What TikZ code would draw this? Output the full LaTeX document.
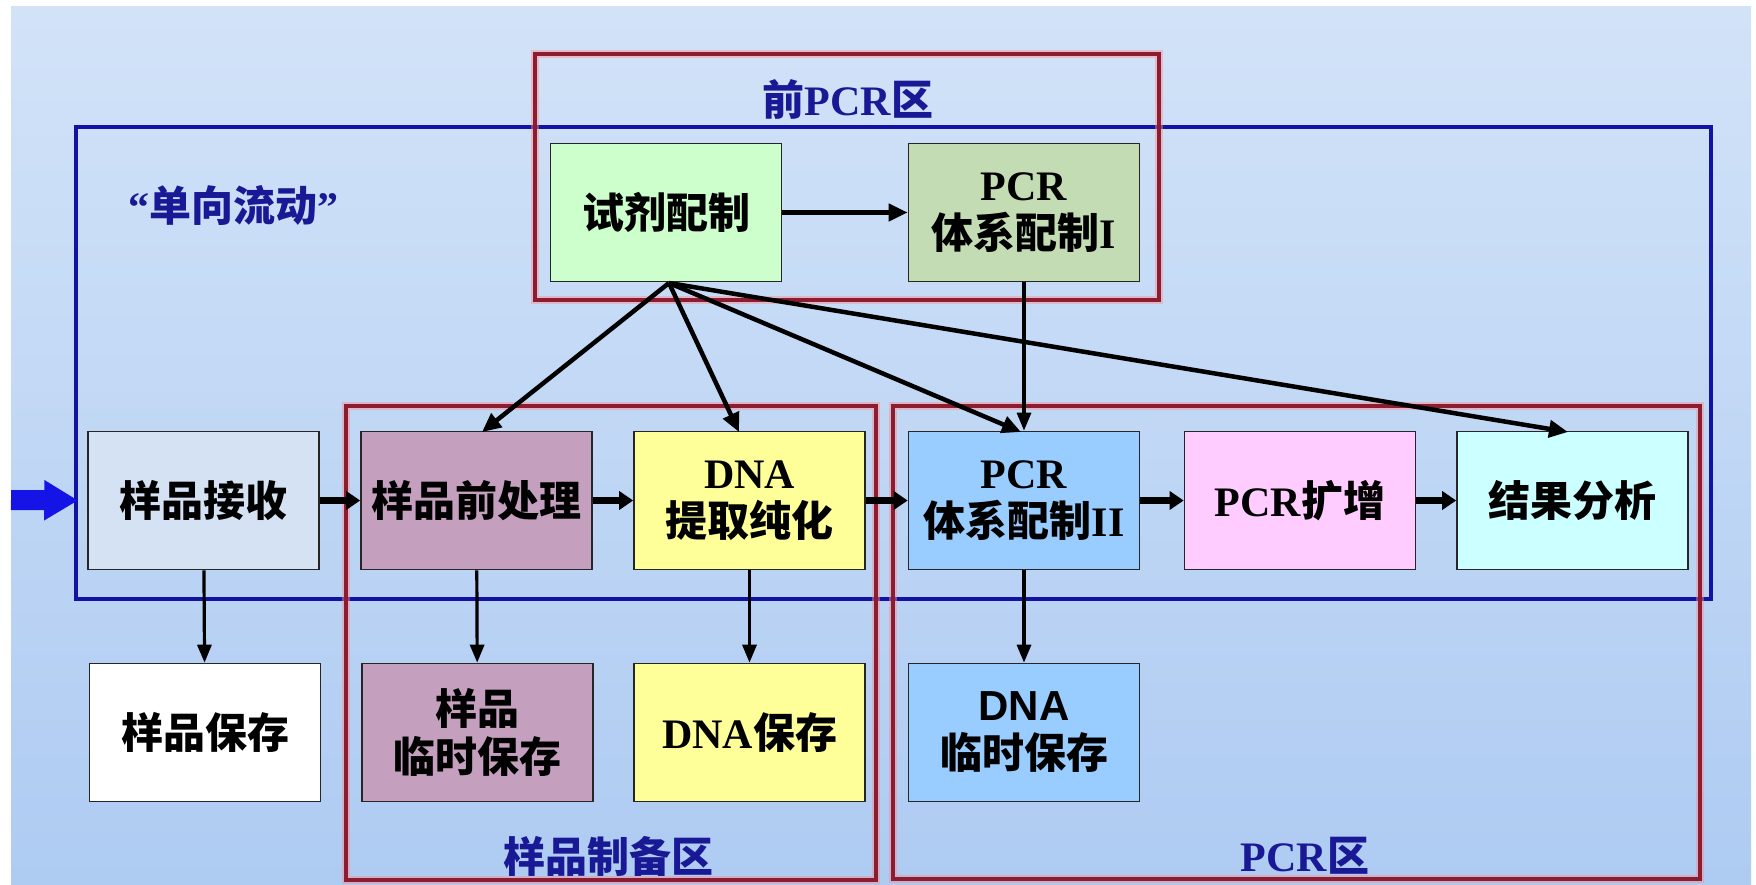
\documentclass[tikz,border=0pt]{standalone}
\usepackage{fontspec}
\setmainfont{Liberation Serif}
\newfontfamily\cjk{Noto Sans CJK SC}
\newfontfamily\lsans{Liberation Sans}
\usetikzlibrary{arrows.meta,calc}
\definecolor{bgtop}{RGB}{210,227,248}
\definecolor{bgbot}{RGB}{174,203,242}
\definecolor{zonered}{RGB}{140,28,50}
\definecolor{zoneblue}{RGB}{18,18,165}
\definecolor{labelblue}{RGB}{25,25,150}
\definecolor{inblue}{RGB}{20,20,230}
\definecolor{cReag}{RGB}{204,255,204}
\definecolor{cPcrA}{RGB}{195,220,180}
\definecolor{cRecv}{RGB}{212,226,244}
\definecolor{cPre}{RGB}{196,160,190}
\definecolor{cDna}{RGB}{255,255,153}
\definecolor{cPcrB}{RGB}{153,204,255}
\definecolor{cAmp}{RGB}{255,204,255}
\definecolor{cRes}{RGB}{204,255,255}
\newcommand\zh[1]{{\cjk\bfseries #1}}
\begin{document}
\begin{tikzpicture}[x=1pt,y=-1pt,
  box/.style={draw=black!85, line width=1.6pt, minimum width=231pt, minimum height=138pt,
    align=center, inner sep=0pt, font=\fontsize{42}{48}\selectfont\bfseries},
  zone/.style={draw=zonered, line width=3.5pt,
    preaction={draw=red!45, line width=8pt, opacity=0.45}},
  zonelabel/.style={text=labelblue, font=\fontsize{42}{48}\selectfont\bfseries, inner sep=0pt},
  flow/.style={draw=black, line width=7pt, -{Triangle[length=14pt,width=18pt]}},
  fan/.style={draw=black, line width=4.5pt, -{Triangle[length=19pt,width=17pt]}},
  down/.style={draw=black, line width=3.2pt, -{Triangle[length=18pt,width=14pt]}},
  inarrow/.style={draw=inblue, line width=20pt, -{Triangle[length=34pt,width=38pt]}}
]
\useasboundingbox (0,0) rectangle (1756,885);
\fill[white] (0,0) rectangle (1756,885);
\shade[top color=bgtop, bottom color=bgbot] (11,7) rectangle (1751,885);

% one-way flow frame
\draw[zoneblue, line width=4pt] (76,127) rectangle (1711,599);

% zones
\draw[zone] (535,54) rectangle (1159,300);
\draw[zone] (346,406) rectangle (876,880);
\draw[zone] (893,406) rectangle (1700,879);

\node[zonelabel] (lpre) at (848,99) {\zh{前}PCR\zh{区}};
\node[zonelabel] (lprep) at (608,856) {\zh{样品制备区}};
\node[zonelabel] (lpcr) at (1305,856) {PCR\zh{区}};
\node[zonelabel] (lflow) at (233,205) {“\zh{单向流动}”};

% boxes
\node[box, fill=cReag] (reag) at (666,212.5) {\zh{试剂配制}};
\node[box, fill=cPcrA] (pcr1) at (1024,212.5) {PCR\\\zh{体系配制}I};

\node[box, fill=cRecv] (recv) at (203.5,500.5) {\zh{样品接收}};
\node[box, fill=cPre] (pre) at (476.5,500.5) {\zh{样品前处理}};
\node[box, fill=cDna] (dna) at (749.5,500.5) {DNA\\\zh{提取纯化}};
\node[box, fill=cPcrB] (pcr2) at (1024,500.5) {PCR\\\zh{体系配制}II};
\node[box, fill=cAmp] (amp) at (1300,500.5) {PCR\zh{扩增}};
\node[box, fill=cRes] (res) at (1572.5,500.5) {\zh{结果分析}};

\node[box, fill=white] (recvsave) at (205,732.5) {\zh{样品保存}};
\node[box, fill=cPre] (pretmp) at (477.5,732.5) {\zh{样品}\\\zh{临时保存}};
\node[box, fill=cDna] (dnasave) at (749.5,732.5) {DNA\zh{保存}};
\node[box, fill=cPcrB] (dnatmp) at (1024,732.5) {{\lsans\bfseries DNA}\\\zh{临时保存}};

% input arrow
\coordinate (in) at (11,500);
\draw[inarrow, shorten >=9pt] (in) -- (recv.west);

% main flow
\draw[flow] (recv) -- (pre);
\draw[flow] (pre) -- (dna);
\draw[flow] (dna) -- (pcr2);
\draw[flow] (pcr2) -- (amp);
\draw[flow] (amp) -- (res);

% top row
\draw[fan] (reag) -- (pcr1);
\draw[down] (pcr1) -- (pcr2);

% fan from reagent preparation
\coordinate (rs) at (669,283);
\coordinate (tpre) at (482,432);
\coordinate (tdna) at (739,432);
\coordinate (tpcr) at (1021,432);
\coordinate (tres) at (1568,432);
\draw[fan] (rs) -- (tpre);
\draw[fan] (rs) -- (tdna);
\draw[fan] (rs) -- (tpcr);
\draw[fan] (rs) -- (tres);

% storage
\draw[down] (recv) -- (recvsave);
\draw[down] (pre) -- (pretmp);
\draw[down] (dna) -- (dnasave);
\draw[down] (pcr2) -- (dnatmp);
\end{tikzpicture}
\end{document}
